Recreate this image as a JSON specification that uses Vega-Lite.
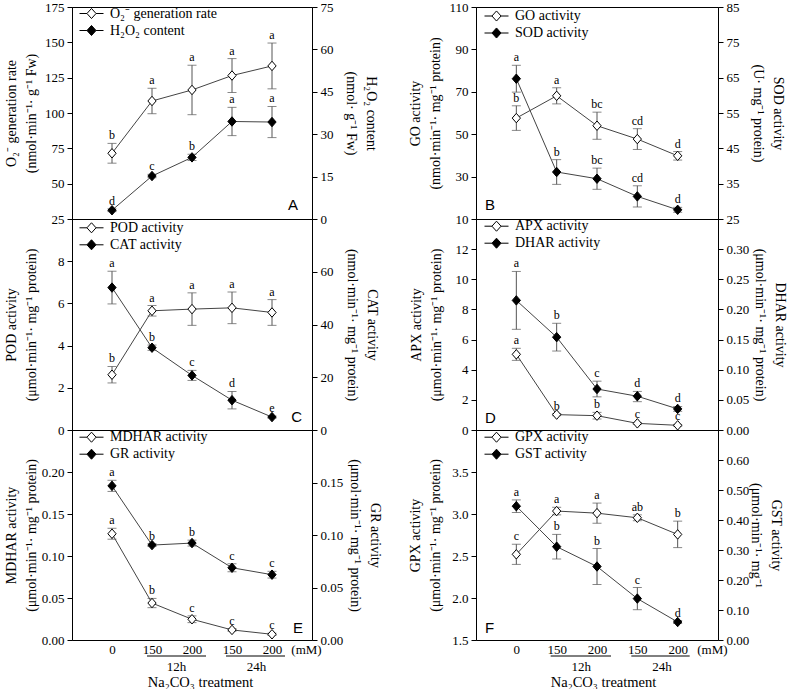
{
"$schema": "https://vega.github.io/schema/vega-lite/v6.json",
"padding": {"left": 3, "top": 0, "right": 0, "bottom": 0},
"datasets": {"d": [
{"p":"A","k":"o","s":"O₂⁻ generation rate","i":0,"v":71.5,"lo":64.5,"hi":78.5,"lab":"b"},
{"p":"A","k":"o","s":"O₂⁻ generation rate","i":1,"v":108.5,"lo":99.5,"hi":117.5,"lab":"a"},
{"p":"A","k":"o","s":"O₂⁻ generation rate","i":2,"v":116.3,"lo":98.8,"hi":133.8,"lab":"a"},
{"p":"A","k":"o","s":"O₂⁻ generation rate","i":3,"v":126.5,"lo":114.5,"hi":138.5,"lab":"a"},
{"p":"A","k":"o","s":"O₂⁻ generation rate","i":4,"v":133.3,"lo":117.1,"hi":149.5,"lab":"a"},
{"p":"A","k":"f","s":"H₂O₂ content","i":0,"v":3.1,"lo":2.6,"hi":3.6,"lab":"d"},
{"p":"A","k":"f","s":"H₂O₂ content","i":1,"v":15.2,"lo":14.6,"hi":15.8,"lab":"c"},
{"p":"A","k":"f","s":"H₂O₂ content","i":2,"v":21.8,"lo":20.7,"hi":22.9,"lab":"b"},
{"p":"A","k":"f","s":"H₂O₂ content","i":3,"v":34.5,"lo":29.5,"hi":39.5,"lab":"a"},
{"p":"A","k":"f","s":"H₂O₂ content","i":4,"v":34.3,"lo":28.8,"hi":39.8,"lab":"a"},
{"p":"B","k":"o","s":"GO activity","i":0,"v":57.6,"lo":51.8,"hi":63.4,"lab":"b"},
{"p":"B","k":"o","s":"GO activity","i":1,"v":68.1,"lo":64.3,"hi":71.9,"lab":"a"},
{"p":"B","k":"o","s":"GO activity","i":2,"v":54.0,"lo":47.6,"hi":60.4,"lab":"bc"},
{"p":"B","k":"o","s":"GO activity","i":3,"v":47.7,"lo":42.8,"hi":52.6,"lab":"cd"},
{"p":"B","k":"o","s":"GO activity","i":4,"v":39.8,"lo":37.8,"hi":41.8,"lab":"d"},
{"p":"B","k":"f","s":"SOD activity","i":0,"v":64.7,"lo":60.9,"hi":68.5,"lab":"a"},
{"p":"B","k":"f","s":"SOD activity","i":1,"v":38.3,"lo":34.8,"hi":41.8,"lab":"b"},
{"p":"B","k":"f","s":"SOD activity","i":2,"v":36.4,"lo":33.4,"hi":39.4,"lab":"bc"},
{"p":"B","k":"f","s":"SOD activity","i":3,"v":31.4,"lo":28.4,"hi":34.4,"lab":"cd"},
{"p":"B","k":"f","s":"SOD activity","i":4,"v":27.6,"lo":26.9,"hi":28.3,"lab":"d"},
{"p":"C","k":"o","s":"POD activity","i":0,"v":2.62,"lo":2.23,"hi":3.01,"lab":"b"},
{"p":"C","k":"o","s":"POD activity","i":1,"v":5.65,"lo":5.40,"hi":5.90,"lab":"a"},
{"p":"C","k":"o","s":"POD activity","i":2,"v":5.73,"lo":4.96,"hi":6.50,"lab":"a"},
{"p":"C","k":"o","s":"POD activity","i":3,"v":5.79,"lo":5.04,"hi":6.54,"lab":"a"},
{"p":"C","k":"o","s":"POD activity","i":4,"v":5.57,"lo":4.96,"hi":6.18,"lab":"a"},
{"p":"C","k":"f","s":"CAT activity","i":0,"v":54.0,"lo":47.8,"hi":60.2,"lab":"a"},
{"p":"C","k":"f","s":"CAT activity","i":1,"v":31.2,"lo":30.2,"hi":32.2,"lab":"b"},
{"p":"C","k":"f","s":"CAT activity","i":2,"v":20.7,"lo":18.8,"hi":22.6,"lab":"c"},
{"p":"C","k":"f","s":"CAT activity","i":3,"v":11.3,"lo":8.0,"hi":14.6,"lab":"d"},
{"p":"C","k":"f","s":"CAT activity","i":4,"v":4.9,"lo":4.5,"hi":5.3,"lab":"e"},
{"p":"D","k":"o","s":"APX activity","i":0,"v":5.02,"lo":4.62,"hi":5.42,"lab":"a"},
{"p":"D","k":"o","s":"APX activity","i":1,"v":1.02,"lo":0.95,"hi":1.09,"lab":"b"},
{"p":"D","k":"o","s":"APX activity","i":2,"v":0.95,"lo":0.73,"hi":1.17,"lab":"b"},
{"p":"D","k":"o","s":"APX activity","i":3,"v":0.44,"lo":0.38,"hi":0.50,"lab":"c"},
{"p":"D","k":"o","s":"APX activity","i":4,"v":0.31,"lo":0.25,"hi":0.37,"lab":"c"},
{"p":"D","k":"f","s":"DHAR activity","i":0,"v":0.215,"lo":0.167,"hi":0.263,"lab":"a"},
{"p":"D","k":"f","s":"DHAR activity","i":1,"v":0.154,"lo":0.131,"hi":0.177,"lab":"b"},
{"p":"D","k":"f","s":"DHAR activity","i":2,"v":0.068,"lo":0.055,"hi":0.081,"lab":"c"},
{"p":"D","k":"f","s":"DHAR activity","i":3,"v":0.056,"lo":0.047,"hi":0.064,"lab":"d"},
{"p":"D","k":"f","s":"DHAR activity","i":4,"v":0.035,"lo":0.031,"hi":0.039,"lab":"d"},
{"p":"E","k":"o","s":"MDHAR activity","i":0,"v":0.1265,"lo":0.1200,"hi":0.1330,"lab":"a"},
{"p":"E","k":"o","s":"MDHAR activity","i":1,"v":0.0440,"lo":0.0385,"hi":0.0495,"lab":"b"},
{"p":"E","k":"o","s":"MDHAR activity","i":2,"v":0.0247,"lo":0.0207,"hi":0.0287,"lab":"c"},
{"p":"E","k":"o","s":"MDHAR activity","i":3,"v":0.0120,"lo":0.0105,"hi":0.0135,"lab":"c"},
{"p":"E","k":"o","s":"MDHAR activity","i":4,"v":0.0068,"lo":0.0055,"hi":0.0081,"lab":"c"},
{"p":"E","k":"f","s":"GR activity","i":0,"v":0.1468,"lo":0.1415,"hi":0.1521,"lab":"a"},
{"p":"E","k":"f","s":"GR activity","i":1,"v":0.0904,"lo":0.0890,"hi":0.0918,"lab":"b"},
{"p":"E","k":"f","s":"GR activity","i":2,"v":0.0923,"lo":0.0895,"hi":0.0951,"lab":"b"},
{"p":"E","k":"f","s":"GR activity","i":3,"v":0.0688,"lo":0.0650,"hi":0.0726,"lab":"c"},
{"p":"E","k":"f","s":"GR activity","i":4,"v":0.0622,"lo":0.0590,"hi":0.0654,"lab":"c"},
{"p":"F","k":"o","s":"GPX activity","i":0,"v":2.52,"lo":2.40,"hi":2.64,"lab":"c"},
{"p":"F","k":"o","s":"GPX activity","i":1,"v":3.035,"lo":2.99,"hi":3.08,"lab":"a"},
{"p":"F","k":"o","s":"GPX activity","i":2,"v":3.01,"lo":2.89,"hi":3.13,"lab":"a"},
{"p":"F","k":"o","s":"GPX activity","i":3,"v":2.955,"lo":2.92,"hi":2.99,"lab":"ab"},
{"p":"F","k":"o","s":"GPX activity","i":4,"v":2.757,"lo":2.60,"hi":2.915,"lab":"b"},
{"p":"F","k":"f","s":"GST activity","i":0,"v":0.446,"lo":0.425,"hi":0.467,"lab":"a"},
{"p":"F","k":"f","s":"GST activity","i":1,"v":0.311,"lo":0.270,"hi":0.352,"lab":"b"},
{"p":"F","k":"f","s":"GST activity","i":2,"v":0.245,"lo":0.185,"hi":0.305,"lab":"b"},
{"p":"F","k":"f","s":"GST activity","i":3,"v":0.138,"lo":0.101,"hi":0.175,"lab":"c"},
{"p":"F","k":"f","s":"GST activity","i":4,"v":0.060,"lo":0.055,"hi":0.065,"lab":"d"}
]},
"data": {"name": "d"},
"columns": 2,
"spacing": {"row": 0, "column": 164},
"bounds": "flush",
"align": "each",
"resolve": {"scale": {"fill": "independent", "x": "independent", "y": "independent"}, "legend": {"fill": "independent"}},
"concat": [
{
 "width": 240, "height": 212,
 "layer": [
  {"transform": [{"filter": "datum.p == 'A' && datum.k == 'o'"}],
   "encoding": {
    "x": {"field": "i", "type": "quantitative", "scale": {"domain": [-1, 5]}, "axis": null},
    "y": {"field": "v", "type": "quantitative", "scale": {"domain": [25, 175]}, "axis": {"values": [25,50,75,100,125,150,175], "title": ["O₂⁻ generation rate", "(nmol·min⁻¹· g⁻¹ Fw)"], "titlePadding": 6}}},
   "layer": [
    {"mark": {"type": "rule", "color": "#555"}, "encoding": {"y": {"field": "lo", "type": "quantitative"}, "y2": {"field": "hi"}}},
    {"mark": {"type": "tick", "orient": "horizontal", "size": 9, "thickness": 1, "color": "#555"}, "encoding": {"y": {"field": "lo", "type": "quantitative"}}},
    {"mark": {"type": "tick", "orient": "horizontal", "size": 9, "thickness": 1, "color": "#555"}, "encoding": {"y": {"field": "hi", "type": "quantitative"}}},
    {"mark": {"type": "line", "color": "#444", "strokeWidth": 1}},
    {"mark": {"type": "point", "shape": "M0,-1.05L0.92,0L0,1.05L-0.92,0Z", "size": 81, "filled": true, "stroke": "black", "strokeWidth": 1, "opacity": 1},
     "encoding": {"fill": {"field": "s", "type": "nominal", "scale": {"domain": ["O₂⁻ generation rate", "H₂O₂ content"], "range": ["white", "black"]}, "legend": {"orient": "none", "legendX": 7, "legendY": -2, "title": null}}}},
    {"mark": {"type": "text", "baseline": "alphabetic", "dy": -4, "fontSize": 12, "font": "Liberation Serif"}, "encoding": {"y": {"field": "hi", "type": "quantitative"}, "text": {"field": "lab"}}},
    {"transform": [{"filter": "datum.i == 0"}], "mark": {"type": "text", "font": "Liberation Sans", "fontSize": 15, "align": "right", "baseline": "alphabetic", "dx": -14, "dy": -9},
     "encoding": {"x": {"datum": 5}, "y": {"datum": 25}, "text": {"value": "A"}}}
   ]},
  {"transform": [{"filter": "datum.p == 'A' && datum.k == 'f'"}],
   "encoding": {
    "x": {"field": "i", "type": "quantitative", "scale": {"domain": [-1, 5]}, "axis": null},
    "y": {"field": "v", "type": "quantitative", "scale": {"domain": [0, 75]}, "axis": {"orient": "right", "values": [0,15,30,45,60,75], "title": ["H₂O₂ content", "(nmol· g⁻¹ Fw)"], "titlePadding": 10}}},
   "layer": [
    {"mark": {"type": "rule", "color": "#555"}, "encoding": {"y": {"field": "lo", "type": "quantitative"}, "y2": {"field": "hi"}}},
    {"mark": {"type": "tick", "orient": "horizontal", "size": 9, "thickness": 1, "color": "#555"}, "encoding": {"y": {"field": "lo", "type": "quantitative"}}},
    {"mark": {"type": "tick", "orient": "horizontal", "size": 9, "thickness": 1, "color": "#555"}, "encoding": {"y": {"field": "hi", "type": "quantitative"}}},
    {"mark": {"type": "line", "color": "#444", "strokeWidth": 1}},
    {"mark": {"type": "point", "shape": "M0,-1.05L0.92,0L0,1.05L-0.92,0Z", "size": 81, "filled": true, "stroke": "black", "strokeWidth": 1, "opacity": 1},
     "encoding": {"fill": {"field": "s", "type": "nominal", "scale": {"domain": ["O₂⁻ generation rate", "H₂O₂ content"], "range": ["white", "black"]}, "legend": {"orient": "none", "legendX": 7, "legendY": -2, "title": null}}}},
    {"mark": {"type": "text", "baseline": "alphabetic", "dy": -4, "fontSize": 12, "font": "Liberation Serif"}, "encoding": {"y": {"field": "hi", "type": "quantitative"}, "text": {"field": "lab"}}}
   ]}
 ],
 "resolve": {"scale": {"y": "independent"}}
},
{
 "width": 242, "height": 212,
 "layer": [
  {"transform": [{"filter": "datum.p == 'B' && datum.k == 'o'"}],
   "encoding": {
    "x": {"field": "i", "type": "quantitative", "scale": {"domain": [-1, 5]}, "axis": null},
    "y": {"field": "v", "type": "quantitative", "scale": {"domain": [10, 110]}, "axis": {"values": [10,30,50,70,90,110], "title": ["GO activity", "(nmol·min⁻¹· mg⁻¹ protein)"], "titlePadding": 6}}},
   "layer": [
    {"mark": {"type": "rule", "color": "#555"}, "encoding": {"y": {"field": "lo", "type": "quantitative"}, "y2": {"field": "hi"}}},
    {"mark": {"type": "tick", "orient": "horizontal", "size": 9, "thickness": 1, "color": "#555"}, "encoding": {"y": {"field": "lo", "type": "quantitative"}}},
    {"mark": {"type": "tick", "orient": "horizontal", "size": 9, "thickness": 1, "color": "#555"}, "encoding": {"y": {"field": "hi", "type": "quantitative"}}},
    {"mark": {"type": "line", "color": "#444", "strokeWidth": 1}},
    {"mark": {"type": "point", "shape": "M0,-1.05L0.92,0L0,1.05L-0.92,0Z", "size": 81, "filled": true, "stroke": "black", "strokeWidth": 1, "opacity": 1},
     "encoding": {"fill": {"field": "s", "type": "nominal", "scale": {"domain": ["GO activity", "SOD activity"], "range": ["white", "black"]}, "legend": {"orient": "none", "legendX": 8, "legendY": 0.5, "title": null}}}},
    {"mark": {"type": "text", "baseline": "alphabetic", "dy": -4, "fontSize": 12, "font": "Liberation Serif"}, "encoding": {"y": {"field": "hi", "type": "quantitative"}, "text": {"field": "lab"}}},
    {"transform": [{"filter": "datum.i == 0"}], "mark": {"type": "text", "font": "Liberation Sans", "fontSize": 15, "align": "left", "baseline": "alphabetic", "dx": 9, "dy": -9},
     "encoding": {"x": {"datum": -1}, "y": {"datum": 10}, "text": {"value": "B"}}}
   ]},
  {"transform": [{"filter": "datum.p == 'B' && datum.k == 'f'"}],
   "encoding": {
    "x": {"field": "i", "type": "quantitative", "scale": {"domain": [-1, 5]}, "axis": null},
    "y": {"field": "v", "type": "quantitative", "scale": {"domain": [25, 85]}, "axis": {"orient": "right", "values": [25,35,45,55,65,75,85], "title": ["SOD activity", "(U· mg⁻¹ protein)"], "titlePadding": 11}}},
   "layer": [
    {"mark": {"type": "rule", "color": "#555"}, "encoding": {"y": {"field": "lo", "type": "quantitative"}, "y2": {"field": "hi"}}},
    {"mark": {"type": "tick", "orient": "horizontal", "size": 9, "thickness": 1, "color": "#555"}, "encoding": {"y": {"field": "lo", "type": "quantitative"}}},
    {"mark": {"type": "tick", "orient": "horizontal", "size": 9, "thickness": 1, "color": "#555"}, "encoding": {"y": {"field": "hi", "type": "quantitative"}}},
    {"mark": {"type": "line", "color": "#444", "strokeWidth": 1}},
    {"mark": {"type": "point", "shape": "M0,-1.05L0.92,0L0,1.05L-0.92,0Z", "size": 81, "filled": true, "stroke": "black", "strokeWidth": 1, "opacity": 1},
     "encoding": {"fill": {"field": "s", "type": "nominal", "scale": {"domain": ["GO activity", "SOD activity"], "range": ["white", "black"]}, "legend": {"orient": "none", "legendX": 8, "legendY": 0.5, "title": null}}}},
    {"mark": {"type": "text", "baseline": "alphabetic", "dy": -4, "fontSize": 12, "font": "Liberation Serif"}, "encoding": {"y": {"field": "hi", "type": "quantitative"}, "text": {"field": "lab"}}}
   ]}
 ],
 "resolve": {"scale": {"y": "independent"}}
},
{
 "width": 240, "height": 211,
 "layer": [
  {"transform": [{"filter": "datum.p == 'C' && datum.k == 'o'"}],
   "encoding": {
    "x": {"field": "i", "type": "quantitative", "scale": {"domain": [-1, 5]}, "axis": null},
    "y": {"field": "v", "type": "quantitative", "scale": {"domain": [0, 10]}, "axis": {"values": [0,2,4,6,8], "title": ["POD activity", "(μmol·min⁻¹· mg⁻¹ protein)"], "titlePadding": 19}}},
   "layer": [
    {"mark": {"type": "rule", "color": "#555"}, "encoding": {"y": {"field": "lo", "type": "quantitative"}, "y2": {"field": "hi"}}},
    {"mark": {"type": "tick", "orient": "horizontal", "size": 9, "thickness": 1, "color": "#555"}, "encoding": {"y": {"field": "lo", "type": "quantitative"}}},
    {"mark": {"type": "tick", "orient": "horizontal", "size": 9, "thickness": 1, "color": "#555"}, "encoding": {"y": {"field": "hi", "type": "quantitative"}}},
    {"mark": {"type": "line", "color": "#444", "strokeWidth": 1}},
    {"mark": {"type": "point", "shape": "M0,-1.05L0.92,0L0,1.05L-0.92,0Z", "size": 81, "filled": true, "stroke": "black", "strokeWidth": 1, "opacity": 1},
     "encoding": {"fill": {"field": "s", "type": "nominal", "scale": {"domain": ["POD activity", "CAT activity"], "range": ["white", "black"]}, "legend": {"orient": "none", "legendX": 7, "legendY": 0.3, "title": null}}}},
    {"mark": {"type": "text", "baseline": "alphabetic", "dy": -4, "fontSize": 12, "font": "Liberation Serif"}, "encoding": {"y": {"field": "hi", "type": "quantitative"}, "text": {"field": "lab"}}},
    {"transform": [{"filter": "datum.i == 0"}], "mark": {"type": "text", "font": "Liberation Sans", "fontSize": 15, "align": "right", "baseline": "alphabetic", "dx": -10, "dy": -8},
     "encoding": {"x": {"datum": 5}, "y": {"datum": 0}, "text": {"value": "C"}}}
   ]},
  {"transform": [{"filter": "datum.p == 'C' && datum.k == 'f'"}],
   "encoding": {
    "x": {"field": "i", "type": "quantitative", "scale": {"domain": [-1, 5]}, "axis": null},
    "y": {"field": "v", "type": "quantitative", "scale": {"domain": [0, 80]}, "axis": {"orient": "right", "values": [0,20,40,60], "title": ["CAT activity", "(nmol·min⁻¹· mg⁻¹ protein)"], "titlePadding": 11}}},
   "layer": [
    {"mark": {"type": "rule", "color": "#555"}, "encoding": {"y": {"field": "lo", "type": "quantitative"}, "y2": {"field": "hi"}}},
    {"mark": {"type": "tick", "orient": "horizontal", "size": 9, "thickness": 1, "color": "#555"}, "encoding": {"y": {"field": "lo", "type": "quantitative"}}},
    {"mark": {"type": "tick", "orient": "horizontal", "size": 9, "thickness": 1, "color": "#555"}, "encoding": {"y": {"field": "hi", "type": "quantitative"}}},
    {"mark": {"type": "line", "color": "#444", "strokeWidth": 1}},
    {"mark": {"type": "point", "shape": "M0,-1.05L0.92,0L0,1.05L-0.92,0Z", "size": 81, "filled": true, "stroke": "black", "strokeWidth": 1, "opacity": 1},
     "encoding": {"fill": {"field": "s", "type": "nominal", "scale": {"domain": ["POD activity", "CAT activity"], "range": ["white", "black"]}, "legend": {"orient": "none", "legendX": 7, "legendY": 0.3, "title": null}}}},
    {"mark": {"type": "text", "baseline": "alphabetic", "dy": -4, "fontSize": 12, "font": "Liberation Serif"}, "encoding": {"y": {"field": "hi", "type": "quantitative"}, "text": {"field": "lab"}}}
   ]}
 ],
 "resolve": {"scale": {"y": "independent"}}
},
{
 "width": 242, "height": 211,
 "layer": [
  {"transform": [{"filter": "datum.p == 'D' && datum.k == 'o'"}],
   "encoding": {
    "x": {"field": "i", "type": "quantitative", "scale": {"domain": [-1, 5]}, "axis": null},
    "y": {"field": "v", "type": "quantitative", "scale": {"domain": [0, 14]}, "axis": {"values": [0,2,4,6,8,10,12], "title": ["APX activity", "(μmol·min⁻¹· mg⁻¹ protein)"], "titlePadding": 12}}},
   "layer": [
    {"mark": {"type": "rule", "color": "#555"}, "encoding": {"y": {"field": "lo", "type": "quantitative"}, "y2": {"field": "hi"}}},
    {"mark": {"type": "tick", "orient": "horizontal", "size": 9, "thickness": 1, "color": "#555"}, "encoding": {"y": {"field": "lo", "type": "quantitative"}}},
    {"mark": {"type": "tick", "orient": "horizontal", "size": 9, "thickness": 1, "color": "#555"}, "encoding": {"y": {"field": "hi", "type": "quantitative"}}},
    {"mark": {"type": "line", "color": "#444", "strokeWidth": 1}},
    {"mark": {"type": "point", "shape": "M0,-1.05L0.92,0L0,1.05L-0.92,0Z", "size": 81, "filled": true, "stroke": "black", "strokeWidth": 1, "opacity": 1},
     "encoding": {"fill": {"field": "s", "type": "nominal", "scale": {"domain": ["APX activity", "DHAR activity"], "range": ["white", "black"]}, "legend": {"orient": "none", "legendX": 8, "legendY": -1.3, "title": null}}}},
    {"mark": {"type": "text", "baseline": "alphabetic", "dy": -4, "fontSize": 12, "font": "Liberation Serif"}, "encoding": {"y": {"field": "hi", "type": "quantitative"}, "text": {"field": "lab"}}},
    {"transform": [{"filter": "datum.i == 0"}], "mark": {"type": "text", "font": "Liberation Sans", "fontSize": 15, "align": "left", "baseline": "alphabetic", "dx": 9, "dy": -7},
     "encoding": {"x": {"datum": -1}, "y": {"datum": 0}, "text": {"value": "D"}}}
   ]},
  {"transform": [{"filter": "datum.p == 'D' && datum.k == 'f'"}],
   "encoding": {
    "x": {"field": "i", "type": "quantitative", "scale": {"domain": [-1, 5]}, "axis": null},
    "y": {"field": "v", "type": "quantitative", "scale": {"domain": [0, 0.35]}, "axis": {"orient": "right", "values": [0,0.05,0.1,0.15,0.2,0.25,0.3], "format": ".2f", "title": ["DHAR activity", "(μmol·min⁻¹· mg⁻¹ protein)"], "titlePadding": 4}}},
   "layer": [
    {"mark": {"type": "rule", "color": "#555"}, "encoding": {"y": {"field": "lo", "type": "quantitative"}, "y2": {"field": "hi"}}},
    {"mark": {"type": "tick", "orient": "horizontal", "size": 9, "thickness": 1, "color": "#555"}, "encoding": {"y": {"field": "lo", "type": "quantitative"}}},
    {"mark": {"type": "tick", "orient": "horizontal", "size": 9, "thickness": 1, "color": "#555"}, "encoding": {"y": {"field": "hi", "type": "quantitative"}}},
    {"mark": {"type": "line", "color": "#444", "strokeWidth": 1}},
    {"mark": {"type": "point", "shape": "M0,-1.05L0.92,0L0,1.05L-0.92,0Z", "size": 81, "filled": true, "stroke": "black", "strokeWidth": 1, "opacity": 1},
     "encoding": {"fill": {"field": "s", "type": "nominal", "scale": {"domain": ["APX activity", "DHAR activity"], "range": ["white", "black"]}, "legend": {"orient": "none", "legendX": 8, "legendY": -1.3, "title": null}}}},
    {"mark": {"type": "text", "baseline": "alphabetic", "dy": -4, "fontSize": 12, "font": "Liberation Serif"}, "encoding": {"y": {"field": "hi", "type": "quantitative"}, "text": {"field": "lab"}}}
   ]}
 ],
 "resolve": {"scale": {"y": "independent"}}
},
{
 "width": 240, "height": 210,
 "layer": [
  {"transform": [{"filter": "datum.p == 'E' && datum.k == 'o'"}],
   "encoding": {
    "x": {"field": "i", "type": "quantitative", "scale": {"domain": [-1, 5]}, "axis": {"values": [0,1,1.6,2,3,3.6,4,4.85], "labelExpr": "datum.value == 0 ? '0' : (datum.value == 1 || datum.value == 3) ? '150' : (datum.value == 2 || datum.value == 4) ? '200' : datum.value == 1.6 ? ['', '12h'] : datum.value == 3.6 ? ['', '24h'] : '(mM)'", "ticks": false, "domain": false, "labelOverlap": false, "labelFlush": false, "labelPadding": 3, "labelLineHeight": 17, "labelBaseline": "top", "title": "Na₂CO₃ treatment", "titleFontSize": 14.5, "titlePadding": 2, "titleX": 128}},
    "y": {"field": "v", "type": "quantitative", "scale": {"domain": [0, 0.25]}, "axis": {"values": [0,0.05,0.1,0.15,0.2], "format": ".2f", "title": ["MDHAR activity", "(μmol·min⁻¹· mg⁻¹ protein)"], "titlePadding": 3}}},
   "layer": [
    {"mark": {"type": "rule", "color": "#555"}, "encoding": {"y": {"field": "lo", "type": "quantitative"}, "y2": {"field": "hi"}}},
    {"mark": {"type": "tick", "orient": "horizontal", "size": 9, "thickness": 1, "color": "#555"}, "encoding": {"y": {"field": "lo", "type": "quantitative"}}},
    {"mark": {"type": "tick", "orient": "horizontal", "size": 9, "thickness": 1, "color": "#555"}, "encoding": {"y": {"field": "hi", "type": "quantitative"}}},
    {"mark": {"type": "line", "color": "#444", "strokeWidth": 1}},
    {"mark": {"type": "point", "shape": "M0,-1.05L0.92,0L0,1.05L-0.92,0Z", "size": 81, "filled": true, "stroke": "black", "strokeWidth": 1, "opacity": 1},
     "encoding": {"fill": {"field": "s", "type": "nominal", "scale": {"domain": ["MDHAR activity", "GR activity"], "range": ["white", "black"]}, "legend": {"orient": "none", "legendX": 7, "legendY": -1.3, "title": null}}}},
    {"mark": {"type": "text", "baseline": "alphabetic", "dy": -4, "fontSize": 12, "font": "Liberation Serif"}, "encoding": {"y": {"field": "hi", "type": "quantitative"}, "text": {"field": "lab"}}},
    {"transform": [{"filter": "datum.i == 0"}], "mark": {"type": "text", "font": "Liberation Sans", "fontSize": 15, "align": "right", "baseline": "alphabetic", "dx": -9, "dy": -7},
     "encoding": {"x": {"datum": 5}, "y": {"datum": 0}, "text": {"value": "E"}}},
    {"transform": [{"filter": "datum.i == 0"}], "mark": {"type": "rule", "color": "black", "strokeWidth": 1, "xOffset": -5, "x2Offset": 14, "yOffset": 16},
     "encoding": {"x": {"datum": 1}, "x2": {"datum": 2}, "y": {"datum": 0}}},
    {"transform": [{"filter": "datum.i == 0"}], "mark": {"type": "rule", "color": "black", "strokeWidth": 1, "xOffset": -6, "x2Offset": 13, "yOffset": 16},
     "encoding": {"x": {"datum": 3}, "x2": {"datum": 4}, "y": {"datum": 0}}}
   ]},
  {"transform": [{"filter": "datum.p == 'E' && datum.k == 'f'"}],
   "encoding": {
    "x": {"field": "i", "type": "quantitative", "scale": {"domain": [-1, 5]}, "axis": {"values": [0,1,1.6,2,3,3.6,4,4.85], "labelExpr": "datum.value == 0 ? '0' : (datum.value == 1 || datum.value == 3) ? '150' : (datum.value == 2 || datum.value == 4) ? '200' : datum.value == 1.6 ? ['', '12h'] : datum.value == 3.6 ? ['', '24h'] : '(mM)'", "ticks": false, "domain": false, "labelOverlap": false, "labelFlush": false, "labelPadding": 3, "labelLineHeight": 17, "labelBaseline": "top", "title": "Na₂CO₃ treatment", "titleFontSize": 14.5, "titlePadding": 2, "titleX": 128}},
    "y": {"field": "v", "type": "quantitative", "scale": {"domain": [0, 0.2]}, "axis": {"orient": "right", "values": [0,0.05,0.1,0.15], "format": ".2f", "title": ["GR activity", "(μmol·min⁻¹· mg⁻¹ protein)"], "titlePadding": 5}}},
   "layer": [
    {"mark": {"type": "rule", "color": "#555"}, "encoding": {"y": {"field": "lo", "type": "quantitative"}, "y2": {"field": "hi"}}},
    {"mark": {"type": "tick", "orient": "horizontal", "size": 9, "thickness": 1, "color": "#555"}, "encoding": {"y": {"field": "lo", "type": "quantitative"}}},
    {"mark": {"type": "tick", "orient": "horizontal", "size": 9, "thickness": 1, "color": "#555"}, "encoding": {"y": {"field": "hi", "type": "quantitative"}}},
    {"mark": {"type": "line", "color": "#444", "strokeWidth": 1}},
    {"mark": {"type": "point", "shape": "M0,-1.05L0.92,0L0,1.05L-0.92,0Z", "size": 81, "filled": true, "stroke": "black", "strokeWidth": 1, "opacity": 1},
     "encoding": {"fill": {"field": "s", "type": "nominal", "scale": {"domain": ["MDHAR activity", "GR activity"], "range": ["white", "black"]}, "legend": {"orient": "none", "legendX": 7, "legendY": -1.3, "title": null}}}},
    {"mark": {"type": "text", "baseline": "alphabetic", "dy": -4, "fontSize": 12, "font": "Liberation Serif"}, "encoding": {"y": {"field": "hi", "type": "quantitative"}, "text": {"field": "lab"}}}
   ]}
 ],
 "resolve": {"scale": {"y": "independent"}}
},
{
 "width": 242, "height": 210,
 "layer": [
  {"transform": [{"filter": "datum.p == 'F' && datum.k == 'o'"}],
   "encoding": {
    "x": {"field": "i", "type": "quantitative", "scale": {"domain": [-1, 5]}, "axis": {"values": [0,1,1.6,2,3,3.6,4,4.85], "labelExpr": "datum.value == 0 ? '0' : (datum.value == 1 || datum.value == 3) ? '150' : (datum.value == 2 || datum.value == 4) ? '200' : datum.value == 1.6 ? ['', '12h'] : datum.value == 3.6 ? ['', '24h'] : '(mM)'", "ticks": false, "domain": false, "labelOverlap": false, "labelFlush": false, "labelPadding": 3, "labelLineHeight": 17, "labelBaseline": "top", "title": "Na₂CO₃ treatment", "titleFontSize": 14.5, "titlePadding": 2, "titleX": 127}},
    "y": {"field": "v", "type": "quantitative", "scale": {"domain": [1.5, 4.0]}, "axis": {"values": [1.5,2,2.5,3,3.5], "format": ".1f", "title": ["GPX activity", "(μmol·min⁻¹· mg⁻¹ protein)"], "titlePadding": 9}}},
   "layer": [
    {"mark": {"type": "rule", "color": "#555"}, "encoding": {"y": {"field": "lo", "type": "quantitative"}, "y2": {"field": "hi"}}},
    {"mark": {"type": "tick", "orient": "horizontal", "size": 9, "thickness": 1, "color": "#555"}, "encoding": {"y": {"field": "lo", "type": "quantitative"}}},
    {"mark": {"type": "tick", "orient": "horizontal", "size": 9, "thickness": 1, "color": "#555"}, "encoding": {"y": {"field": "hi", "type": "quantitative"}}},
    {"mark": {"type": "line", "color": "#444", "strokeWidth": 1}},
    {"mark": {"type": "point", "shape": "M0,-1.05L0.92,0L0,1.05L-0.92,0Z", "size": 81, "filled": true, "stroke": "black", "strokeWidth": 1, "opacity": 1},
     "encoding": {"fill": {"field": "s", "type": "nominal", "scale": {"domain": ["GPX activity", "GST activity"], "range": ["white", "black"]}, "legend": {"orient": "none", "legendX": 8, "legendY": -1.3, "title": null}}}},
    {"mark": {"type": "text", "baseline": "alphabetic", "dy": -4, "fontSize": 12, "font": "Liberation Serif"}, "encoding": {"y": {"field": "hi", "type": "quantitative"}, "text": {"field": "lab"}}},
    {"transform": [{"filter": "datum.i == 0"}], "mark": {"type": "text", "font": "Liberation Sans", "fontSize": 15, "align": "left", "baseline": "alphabetic", "dx": 9, "dy": -7},
     "encoding": {"x": {"datum": -1}, "y": {"datum": 1.5}, "text": {"value": "F"}}},
    {"transform": [{"filter": "datum.i == 0"}], "mark": {"type": "rule", "color": "black", "strokeWidth": 1, "xOffset": -6, "x2Offset": 14, "yOffset": 16},
     "encoding": {"x": {"datum": 1}, "x2": {"datum": 2}, "y": {"datum": 1.5}}},
    {"transform": [{"filter": "datum.i == 0"}], "mark": {"type": "rule", "color": "black", "strokeWidth": 1, "xOffset": -6, "x2Offset": 12, "yOffset": 16},
     "encoding": {"x": {"datum": 3}, "x2": {"datum": 4}, "y": {"datum": 1.5}}}
   ]},
  {"transform": [{"filter": "datum.p == 'F' && datum.k == 'f'"}],
   "encoding": {
    "x": {"field": "i", "type": "quantitative", "scale": {"domain": [-1, 5]}, "axis": {"values": [0,1,1.6,2,3,3.6,4,4.85], "labelExpr": "datum.value == 0 ? '0' : (datum.value == 1 || datum.value == 3) ? '150' : (datum.value == 2 || datum.value == 4) ? '200' : datum.value == 1.6 ? ['', '12h'] : datum.value == 3.6 ? ['', '24h'] : '(mM)'", "ticks": false, "domain": false, "labelOverlap": false, "labelFlush": false, "labelPadding": 3, "labelLineHeight": 17, "labelBaseline": "top", "title": "Na₂CO₃ treatment", "titleFontSize": 14.5, "titlePadding": 2, "titleX": 127}},
    "y": {"field": "v", "type": "quantitative", "scale": {"domain": [0, 0.7]}, "axis": {"orient": "right", "values": [0,0.1,0.2,0.3,0.4,0.5,0.6], "format": ".2f", "title": ["GST activity", "(μmol·min⁻¹· mg⁻¹"], "titlePadding": 0}}},
   "layer": [
    {"mark": {"type": "rule", "color": "#555"}, "encoding": {"y": {"field": "lo", "type": "quantitative"}, "y2": {"field": "hi"}}},
    {"mark": {"type": "tick", "orient": "horizontal", "size": 9, "thickness": 1, "color": "#555"}, "encoding": {"y": {"field": "lo", "type": "quantitative"}}},
    {"mark": {"type": "tick", "orient": "horizontal", "size": 9, "thickness": 1, "color": "#555"}, "encoding": {"y": {"field": "hi", "type": "quantitative"}}},
    {"mark": {"type": "line", "color": "#444", "strokeWidth": 1}},
    {"mark": {"type": "point", "shape": "M0,-1.05L0.92,0L0,1.05L-0.92,0Z", "size": 81, "filled": true, "stroke": "black", "strokeWidth": 1, "opacity": 1},
     "encoding": {"fill": {"field": "s", "type": "nominal", "scale": {"domain": ["GPX activity", "GST activity"], "range": ["white", "black"]}, "legend": {"orient": "none", "legendX": 8, "legendY": -1.3, "title": null}}}},
    {"mark": {"type": "text", "baseline": "alphabetic", "dy": -4, "fontSize": 12, "font": "Liberation Serif"}, "encoding": {"y": {"field": "hi", "type": "quantitative"}, "text": {"field": "lab"}}}
   ]}
 ],
 "resolve": {"scale": {"y": "independent"}}
}
],
"config": {
 "view": {"stroke": "black", "strokeWidth": 1},
 "axis": {"labelFont": "Liberation Serif", "labelFontSize": 13, "labelColor": "black", "titleFont": "Liberation Serif", "titleFontSize": 14, "titleFontWeight": "normal", "titleColor": "black", "titleLineHeight": 20, "tickColor": "black", "tickSize": 5, "domainColor": "black", "grid": false, "labelPadding": 3, "labelOverlap": false},
 "legend": {"symbolType": "M-1,0L-0.38,0M0.38,0L1,0M0,-0.42L0.38,0L0,0.42L-0.38,0Z", "symbolSize": 576, "symbolStrokeColor": "black", "symbolStrokeWidth": 1, "symbolOpacity": 1, "labelFont": "Liberation Serif", "labelFontSize": 14, "labelColor": "black", "labelOffset": 6, "rowPadding": 0, "clipHeight": 17, "padding": 0},
 "text": {"font": "Liberation Serif", "color": "black"}
}
}
